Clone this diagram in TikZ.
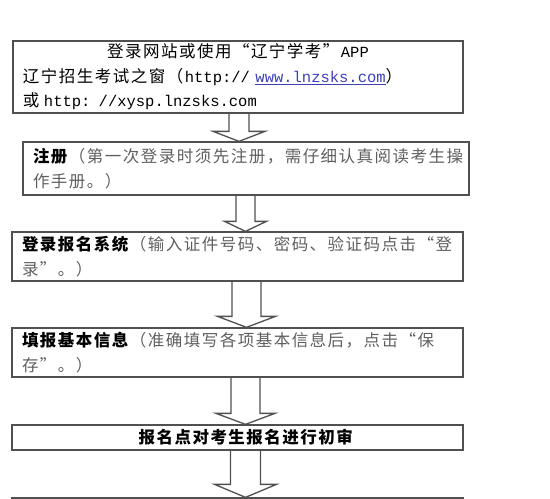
\documentclass[tikz,border=0pt]{standalone}
\usepackage{fontspec}
\setmainfont{Noto Sans CJK SC}[LetterSpace=9,RawFeature=+fwid]
\setmonofont{Liberation Mono}
\usepackage{tikz}
\usetikzlibrary{calc}
\definecolor{boxgray}{RGB}{80,80,80}
\definecolor{notegray}{RGB}{95,95,95}
\definecolor{linkblue}{RGB}{60,64,180}
\newcommand{\hollowarrow}[6]{%
\path (#1.south -| #3,0) coordinate (top) (#2.north -| #3,0) coordinate (tip);
\draw[arrowline] ($(top)+(-#4,0)$) -- ($(tip)+(-#4,-#6)$) -- ($(tip)+(-#5,-#6)$) -- (tip)
  -- ($(tip)+(#5,-#6)$) -- ($(tip)+(#4,-#6)$) -- ($(top)+(#4,0)$);}

\begin{document}
\begin{tikzpicture}[x=1pt,y=-1pt,
  box/.style={rectangle,draw=boxgray,line width=1.3pt,inner xsep=10pt,inner ysep=0pt,align=left,
    font=\fontsize{16.5}{24.5}\selectfont},
  arrowline/.style={draw=boxgray,line width=1.3pt,line join=miter}]
\useasboundingbox (0,0) rectangle (550,499);
\node[box,minimum width=450pt,minimum height=72pt,text width=430pt] (login) at (238,77)
  {\makebox[430pt][c]{登录网站或使用“辽宁学考”\texttt{\fontsize{15.5}{24.5}\selectfont APP}}\\
   辽宁招生考试之窗（\texttt{\fontsize{15.5}{24.5}\selectfont http:// \textcolor{linkblue}{\underline{www.lnzsks.com}}}）\\
   或\hspace{3pt}\texttt{\fontsize{15.5}{24.5}\selectfont http: //xysp.lnzsks.com}};
\node[box,minimum width=446pt,minimum height=53pt,text width=426pt] (register) at (246,168.5)
  {\textbf{注册}{\color{notegray}（第一次登录时须先注册，需仔细认真阅读考生操\\作手册。）}};
\node[box,minimum width=451pt,minimum height=49pt,text width=431pt] (system) at (237.5,256.5)
  {\textbf{登录报名系统}{\color{notegray}（输入证件号码、密码、验证码点击“登\\录”。）}};
\node[box,minimum width=451pt,minimum height=49pt,text width=431pt] (info) at (237.5,352.5)
  {\textbf{填报基本信息}{\color{notegray}（准确填写各项基本信息后，点击“保\\存”。）}};
\node[box,minimum width=451pt,minimum height=25pt,text width=431pt,align=center] (check) at (237.5,437.5)
  {\hspace*{18pt}\textbf{报名点对考生报名进行初审}};
\node[box,minimum width=451pt,minimum height=40pt] (next) at (237.5,518) {};
\hollowarrow{login}{register}{239}{10}{26}{10}
\hollowarrow{register}{system}{245.5}{9.5}{21}{10}
\hollowarrow{system}{info}{246.5}{14.5}{29}{11}
\hollowarrow{info}{check}{245.5}{14.5}{29.5}{11}
\hollowarrow{check}{next}{245.5}{15}{31}{13}
\end{tikzpicture}
\end{document}
